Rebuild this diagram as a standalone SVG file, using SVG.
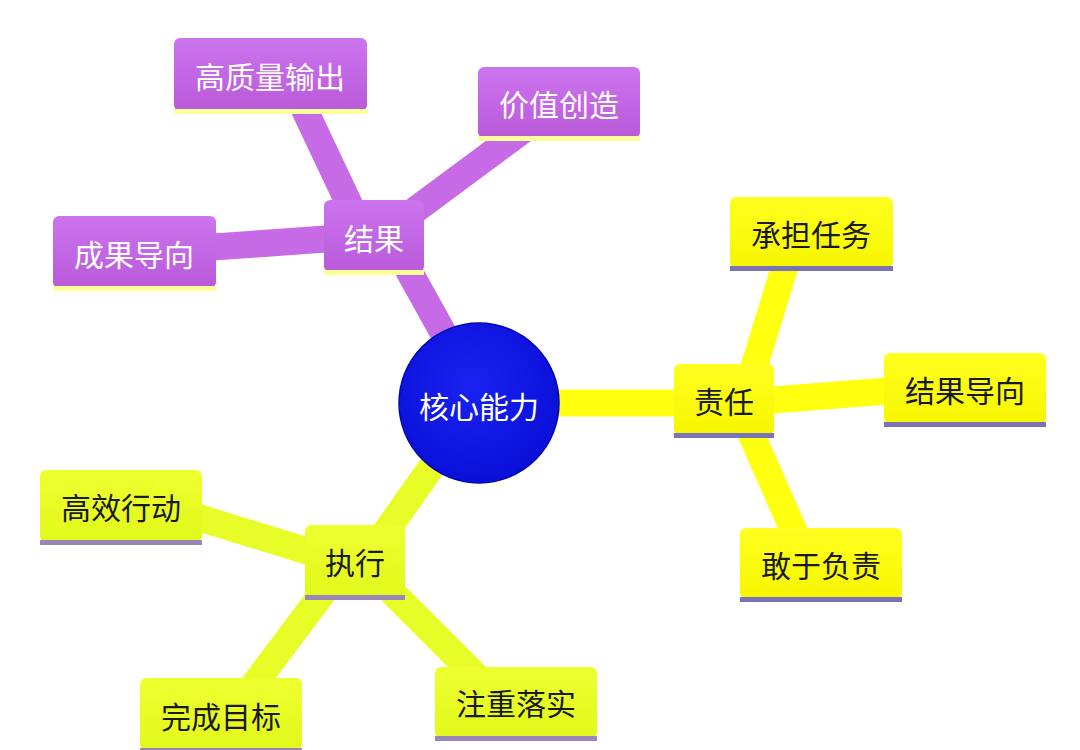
<svg xmlns="http://www.w3.org/2000/svg" width="1080" height="750" viewBox="0 0 1080 750">
<defs>
<linearGradient id="gp" x1="0" y1="0" x2="0" y2="1"><stop offset="0" stop-color="#cc74ee"/><stop offset="1" stop-color="#b95ad9"/></linearGradient>
<linearGradient id="gy" x1="0" y1="0" x2="0" y2="1"><stop offset="0" stop-color="#ffff20"/><stop offset="1" stop-color="#f6f600"/></linearGradient>
<linearGradient id="gl" x1="0" y1="0" x2="0" y2="1"><stop offset="0" stop-color="#eeff30"/><stop offset="1" stop-color="#e2f81a"/></linearGradient>
<radialGradient id="gc" cx="0.45" cy="0.4" r="0.6"><stop offset="0" stop-color="#1a22f0"/><stop offset="1" stop-color="#0a10d8"/></radialGradient>
</defs>
<style>
.t{font-family:"Noto Sans CJK SC","Noto Sans",sans-serif;font-size:30px;text-anchor:middle;dominant-baseline:central}
.tw{fill:#ffffff}
.td{fill:#1a1a1a}
.p{fill:url(#gp)}
.y{fill:url(#gy)}
.l{fill:url(#gl)}
.up{fill:#ffff99}
.uy{fill:#7a74b4}
.ul{fill:#9a86b8}
.cp{stroke:#c76ae6;stroke-width:27;fill:none}
.cy{stroke:#ffff10;stroke-width:27;fill:none}
.cl{stroke:#e8fc28;stroke-width:27;fill:none}
</style>
<rect width="1080" height="750" fill="#ffffff"/>
<g id="connectors">
<line class="cp" x1="400" y1="255" x2="450" y2="345"/>
<line class="cp" x1="352" y1="210" x2="300" y2="100"/>
<line class="cp" x1="395" y1="225" x2="530" y2="125"/>
<line class="cp" x1="200" y1="248" x2="340" y2="238"/>
<line class="cy" x1="540" y1="403" x2="690" y2="403"/>
<line class="cy" x1="750" y1="380" x2="790" y2="250"/>
<line class="cy" x1="760" y1="401" x2="900" y2="390"/>
<line class="cy" x1="745" y1="420" x2="800" y2="545"/>
<line class="cl" x1="440" y1="455" x2="380" y2="540"/>
<line class="cl" x1="190" y1="515" x2="320" y2="555"/>
<line class="cl" x1="325" y1="590" x2="250" y2="690"/>
<line class="cl" x1="390" y1="590" x2="480" y2="680"/>
</g>
<g id="center">
<circle cx="479" cy="403" r="80" fill="url(#gc)" stroke="#0008b0" stroke-width="1.5"/>
<text class="t tw" x="479" y="405">核心能力</text>
</g>
<g id="n-gzlsc">
<rect class="p" x="174" y="38" width="193" height="73" rx="6"/>
<rect class="up" x="174" y="109" width="193" height="5"/>
<text class="t tw" x="270" y="75">高质量输出</text>
</g>
<g id="n-jzcz">
<rect class="p" x="478" y="67" width="162" height="71" rx="6"/>
<rect class="up" x="478" y="136" width="162" height="5"/>
<text class="t tw" x="559" y="103">价值创造</text>
</g>
<g id="n-jg">
<rect class="p" x="324" y="200" width="100" height="72" rx="6"/>
<rect class="up" x="324" y="270" width="100" height="5"/>
<text class="t tw" x="374" y="237">结果</text>
</g>
<g id="n-cgdx">
<rect class="p" x="53" y="216" width="163" height="72" rx="6"/>
<rect class="up" x="53" y="286" width="163" height="5"/>
<text class="t tw" x="134" y="253">成果导向</text>
</g>
<g id="n-cdrw">
<rect class="y" x="730" y="197" width="163" height="71" rx="6"/>
<rect class="uy" x="730" y="266" width="163" height="5"/>
<text class="t td" x="811" y="233">承担任务</text>
</g>
<g id="n-zr">
<rect class="y" x="674" y="364" width="100" height="71" rx="6"/>
<rect class="uy" x="674" y="433" width="100" height="5"/>
<text class="t td" x="724" y="400">责任</text>
</g>
<g id="n-jgdx">
<rect class="y" x="884" y="353" width="162" height="71" rx="6"/>
<rect class="uy" x="884" y="422" width="162" height="5"/>
<text class="t td" x="965" y="389">结果导向</text>
</g>
<g id="n-gyfz">
<rect class="y" x="740" y="528" width="162" height="71" rx="6"/>
<rect class="uy" x="740" y="597" width="162" height="5"/>
<text class="t td" x="821" y="564">敢于负责</text>
</g>
<g id="n-gxxd">
<rect class="l" x="40" y="470" width="162" height="72" rx="6"/>
<rect class="ul" x="40" y="540" width="162" height="5"/>
<text class="t td" x="121" y="506">高效行动</text>
</g>
<g id="n-zx">
<rect class="l" x="305" y="525" width="100" height="72" rx="6"/>
<rect class="ul" x="305" y="595" width="100" height="5"/>
<text class="t td" x="355" y="561">执行</text>
</g>
<g id="n-wcmb">
<rect class="l" x="140" y="678" width="162" height="72" rx="6"/>
<rect class="ul" x="140" y="748" width="162" height="5"/>
<text class="t td" x="221" y="715">完成目标</text>
</g>
<g id="n-zzls">
<rect class="l" x="435" y="667" width="162" height="71" rx="6"/>
<rect class="ul" x="435" y="736" width="162" height="5"/>
<text class="t td" x="516" y="702">注重落实</text>
</g>
</svg>
